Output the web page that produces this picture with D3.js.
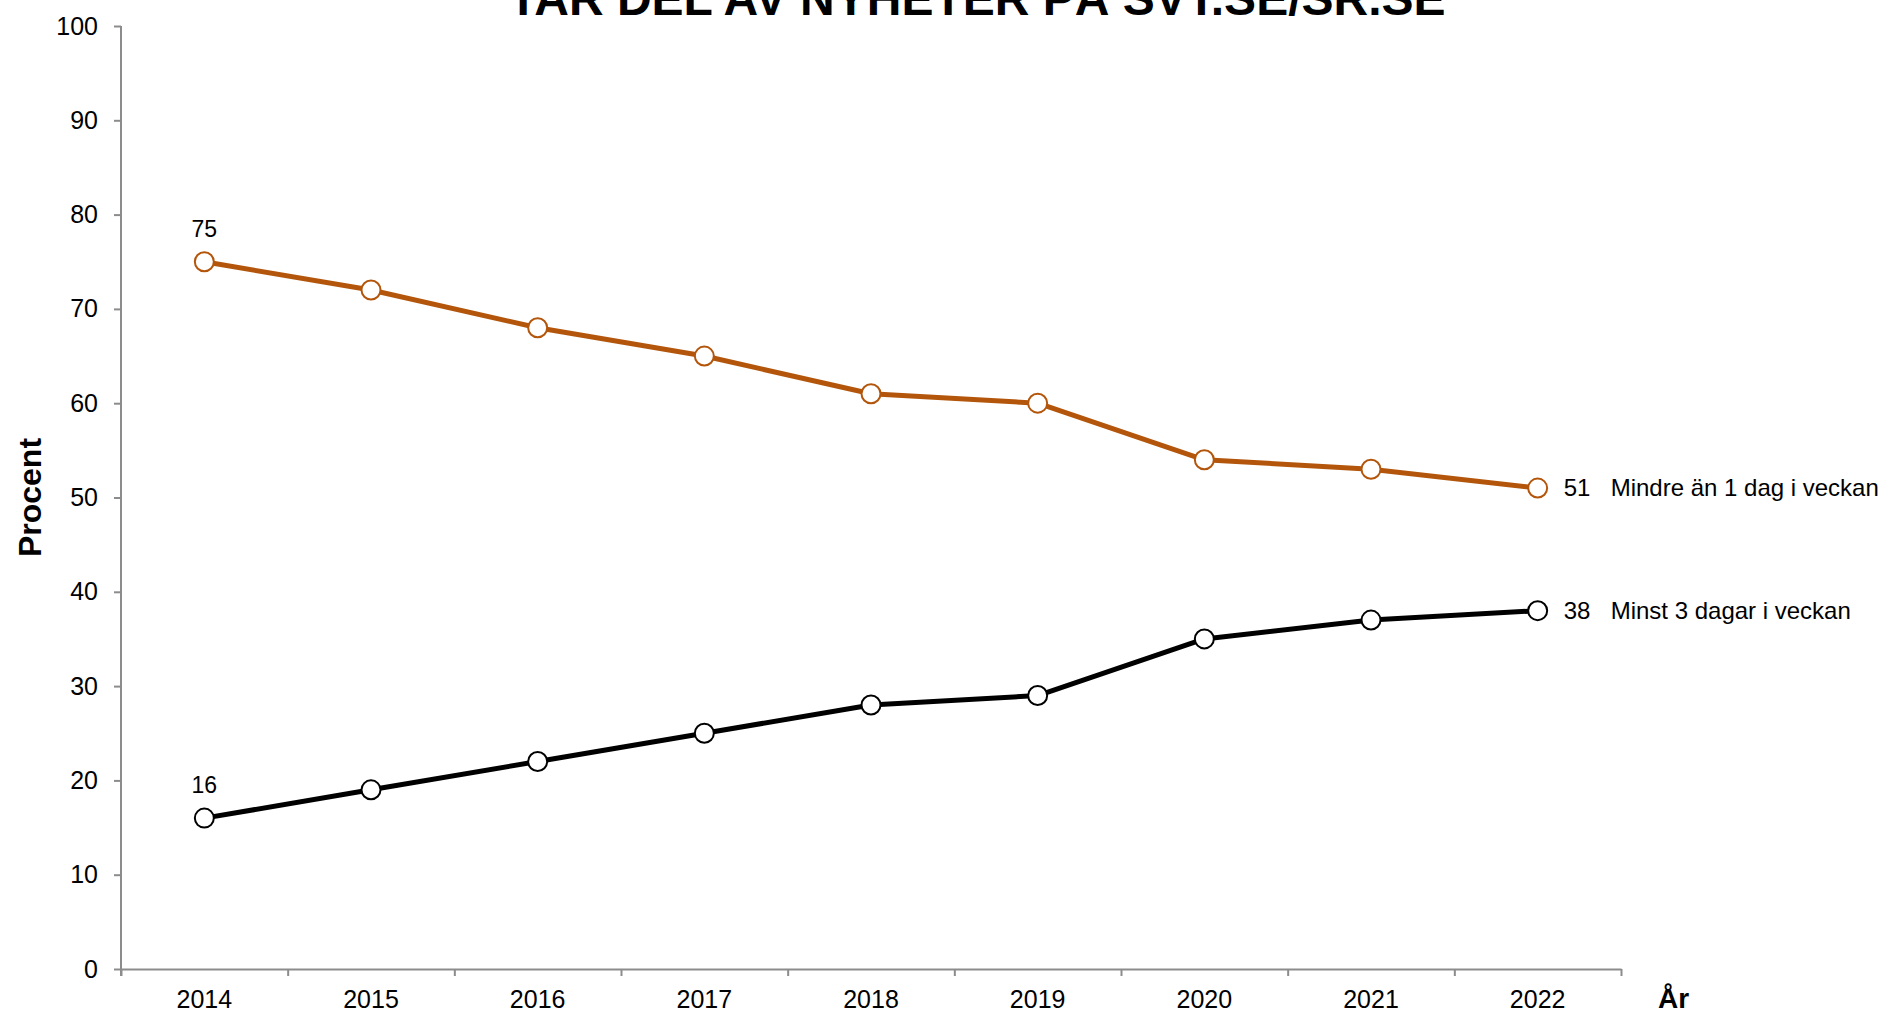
<!DOCTYPE html>
<html>
<head>
<meta charset="utf-8">
<script src="https://cdn.jsdelivr.net/npm/d3@7"></script>
<style>
  html, body { margin: 0; padding: 0; background: #fff; }
  svg { display: block; font-family: "Liberation Sans", Arial, sans-serif; }
</style>
</head>
<body>
<svg id="chart" width="1883" height="1013"></svg>
<script>
const years = ["2014","2015","2016","2017","2018","2019","2020","2021","2022"];
const lessThanOne = [75, 72, 68, 65, 61, 60, 54, 53, 51];
const atLeastThree = [16, 19, 22, 25, 28, 29, 35, 37, 38];
const seriesNames = ["Mindre än 1 dag i veckan", "Minst 3 dagar i veckan"];
const yTicks = [0,10,20,30,40,50,60,70,80,90,100];
const titleText = "TAR DEL AV NYHETER PÅ SVT.SE/SR.SE";
const yAxisTitle = "Procent";
const xAxisTitle = "År";

const series = [
  { name: seriesNames[0], values: lessThanOne, color: "#b3560b" },
  { name: seriesNames[1], values: atLeastThree, color: "#000000" }
];

const svg = d3.select("#chart");
const plotLeft = 121, plotRight = 1621, plotTop = 26, plotBottom = 969;
const axisColor = "#8c8c8c";

const x = d3.scaleBand().domain(years).range([plotLeft, plotRight]).padding(0);
const y = d3.scaleLinear().domain([0, 100]).range([plotBottom, plotTop]);
const xi = d3.scaleLinear().domain([0, years.length]).range([plotLeft, plotRight]);

// Title
svg.append("text")
  .attr("x", 977).attr("y", 15)
  .attr("text-anchor", "middle")
  .attr("font-size", 48).attr("font-weight", "bold")
  .text(titleText);

// Y axis
const yAxis = svg.append("g")
  .attr("transform", `translate(${plotLeft},0)`)
  .call(d3.axisLeft(y).tickValues(yTicks).tickSize(7).tickPadding(16).tickSizeOuter(0));
yAxis.select(".domain").attr("stroke", axisColor).attr("stroke-width", 2)
  .attr("d", `M0,${plotTop}V${plotBottom + 7}`);
yAxis.selectAll(".tick line").attr("stroke", axisColor).attr("stroke-width", 2);
yAxis.selectAll(".tick text").attr("font-size", 25).attr("fill", "#000")
  .attr("font-family", "Liberation Sans, Arial, sans-serif");

// X axis: boundary ticks
const xTickAxis = svg.append("g")
  .attr("transform", `translate(0,${plotBottom})`)
  .call(d3.axisBottom(xi).tickValues(d3.range(0, years.length + 1)).tickSize(7).tickFormat("").tickSizeOuter(0));
xTickAxis.select(".domain").attr("stroke", axisColor).attr("stroke-width", 2);
xTickAxis.selectAll(".tick line").attr("stroke", axisColor).attr("stroke-width", 2);

// X axis labels
const xLabelAxis = svg.append("g")
  .attr("transform", `translate(0,${plotBottom})`)
  .call(d3.axisBottom(x).tickSize(0).tickSizeOuter(0));
xLabelAxis.select(".domain").remove();
xLabelAxis.selectAll(".tick text")
  .attr("y", 39).attr("dy", 0)
  .attr("font-size", 25).attr("fill", "#000")
  .attr("font-family", "Liberation Sans, Arial, sans-serif");

// Axis titles
svg.append("text")
  .attr("transform", `translate(41,${(plotTop + plotBottom) / 2}) rotate(-90)`)
  .attr("text-anchor", "middle")
  .attr("font-size", 32).attr("font-weight", "bold")
  .text(yAxisTitle);

svg.append("text")
  .attr("x", 1658).attr("y", 1008)
  .attr("font-size", 28).attr("font-weight", "bold")
  .text(xAxisTitle);

// Lines
const line = d3.line()
  .x((d, i) => x(years[i]) + x.bandwidth() / 2)
  .y(d => y(d));

series.forEach(s => {
  const g = svg.append("g");
  g.append("path")
    .datum(s.values)
    .attr("fill", "none")
    .attr("stroke", s.color)
    .attr("stroke-width", 5)
    .attr("stroke-linejoin", "round")
    .attr("d", line);
  g.selectAll("circle")
    .data(s.values)
    .join("circle")
    .attr("cx", (d, i) => x(years[i]) + x.bandwidth() / 2)
    .attr("cy", d => y(d))
    .attr("r", 9.5)
    .attr("fill", "#fff")
    .attr("stroke", s.color)
    .attr("stroke-width", 2);

  const cx0 = x(years[0]) + x.bandwidth() / 2;
  g.append("text")
    .attr("x", cx0).attr("y", y(s.values[0]) - 25)
    .attr("text-anchor", "middle")
    .attr("font-size", 23)
    .text(s.values[0]);

  const n = s.values.length - 1;
  const cxN = x(years[n]) + x.bandwidth() / 2;
  g.append("text")
    .attr("x", cxN + 26).attr("y", y(s.values[n]))
    .attr("dy", "0.35em")
    .attr("font-size", 24)
    .text(s.values[n]);
  g.append("text")
    .attr("x", cxN + 73).attr("y", y(s.values[n]))
    .attr("dy", "0.35em")
    .attr("font-size", 24)
    .text(s.name);
});
</script>
</body>
</html>
